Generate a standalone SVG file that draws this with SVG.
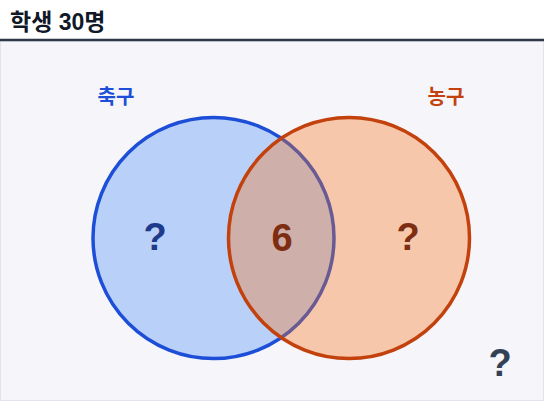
<svg xmlns="http://www.w3.org/2000/svg" width="544" height="401" viewBox="0 0 544 401">
<style>
text{font-family:"Liberation Sans","Noto Sans CJK KR",sans-serif;font-weight:bold}
.lbl{font-size:20px;text-anchor:middle}
.q{font-size:38px;text-anchor:middle}
</style>
<rect x="0" y="0" width="544" height="401" fill="#ffffff"/>
<rect x="0.5" y="41" width="543" height="359.5" fill="#f5f5fa" stroke="#e2e4ec" stroke-width="1"/>
<line x1="0" y1="40" x2="544" y2="40" stroke="#2d3748" stroke-width="2.5"/>
<text x="10" y="29.5" font-size="23" fill="#111827" font-family="'Noto Sans CJK KR',sans-serif">학생 30명</text>
<g id="soccer">
<circle cx="213.5" cy="238" r="120.5" fill="#3b82f6" fill-opacity="0.32" stroke="#1d4ed8" stroke-width="3.5"/>
<text class="lbl" x="116" y="104" fill="#1d4ed8" font-family="'Noto Sans CJK KR',sans-serif">축구</text>
<text class="q" x="155" y="250" fill="#1e3a8a">?</text>
</g>
<g id="basketball">
<circle cx="349" cy="238" r="120.5" fill="#f97316" fill-opacity="0.35" stroke="#c2410c" stroke-width="3.5"/>
<text class="lbl" x="446" y="104" fill="#c2410c" font-family="'Noto Sans CJK KR',sans-serif">농구</text>
<text class="q" x="408" y="250" fill="#7c2d12">?</text>
</g>
<g id="both">
<text class="q" x="282" y="251" fill="#7c2d12">6</text>
</g>
<g id="neither">
<text class="q" x="500" y="376" fill="#334155">?</text>
</g>
<g id="connectors"></g>
</svg>
